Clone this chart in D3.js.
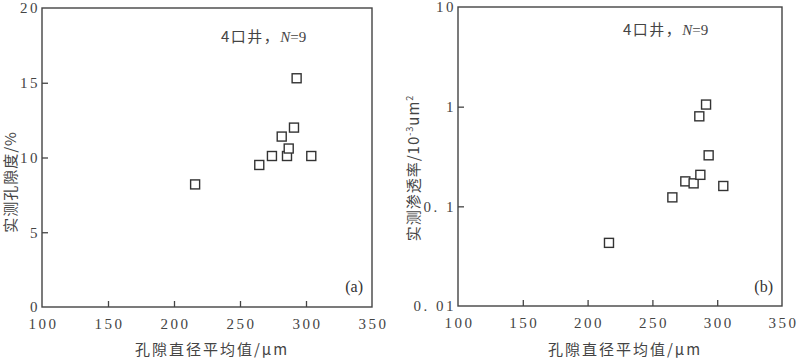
<!DOCTYPE html>
<html><head><meta charset="utf-8">
<script src="https://cdn.jsdelivr.net/npm/d3@7/dist/d3.min.js"></script>
<style>
body{margin:0;background:#fff;}
svg{display:block;}
.tick-label{font-family:"Liberation Serif","DejaVu Serif",serif;font-size:15px;fill:#444;letter-spacing:2.5px;}
.cjk{font-family:"Noto Sans CJK SC","Noto Sans",sans-serif;fill:#444;}
</style>
</head><body>
<svg id="c" width="800" height="359"></svg>
<script>
// Data
const diamA = [216, 264.6, 274.2, 285.6, 286.9, 281.6, 290.9, 292.9, 304];
const porosity = [8.2, 9.5, 10.1, 10.1, 10.6, 11.4, 12.0, 15.3, 10.1];
const diamB = [216.5, 265.4, 275.4, 281.8, 287, 293.4, 286.2, 291.4, 304.7];
const permeability = [0.043, 0.123, 0.178, 0.170, 0.207, 0.325, 0.80, 1.05, 0.160];
const xTicks = [100, 150, 200, 250, 300, 350];
const yTicksA = [0, 5, 10, 15, 20];
const yTicksB = [0.01, 0.1, 1, 10];
const yTickLabelsB = ["0. 01", "0. 1", "1", "10"];
const xTitle = "孔隙直径平均值/μm";
const annot = "4口井，";

const svg = d3.select("#c");
const ink = "#444";

function panel(opt){
  const g = svg.append("g");
  const x = d3.scaleLinear().domain([100,350]).range([opt.left, opt.right]);
  const y = opt.log ? d3.scaleLog().domain([0.01,10]).range([opt.bottom, opt.top])
                    : d3.scaleLinear().domain([0,20]).range([opt.bottom, opt.top]);
  g.append("rect").attr("x",opt.left).attr("y",opt.top)
    .attr("width",opt.right-opt.left).attr("height",opt.bottom-opt.top)
    .attr("fill","none").attr("stroke",ink).attr("stroke-width",1.4);
  const xAx = d3.axisBottom(x).tickValues(xTicks).tickSize(-6).tickFormat(d3.format("d"));
  const gx = g.append("g").attr("transform",`translate(0,${opt.bottom})`).call(xAx);
  gx.select(".domain").remove();
  gx.selectAll(".tick line").attr("stroke",ink).attr("stroke-width",1.3)
    .attr("display",d=> (d===100||d===350)?"none":null);
  gx.selectAll(".tick text").attr("class","tick-label").attr("y",11).attr("dy","0.71em")
    .attr("dx","1px").attr("fill",ink);
  const yAx = d3.axisLeft(y).tickValues(opt.yTicks).tickSize(-6)
    .tickFormat((d,i)=>opt.yLabels ? opt.yLabels[i] : d3.format("d")(d));
  const gy = g.append("g").attr("transform",`translate(${opt.left},0)`).call(yAx);
  gy.select(".domain").remove();
  gy.selectAll(".tick line").attr("stroke",ink).attr("stroke-width",1.3)
    .attr("display",(d,i)=> (i===0||i===opt.yTicks.length-1)?"none":null);
  gy.selectAll(".tick text").attr("class","tick-label").attr("x",-2).attr("fill",ink);
  const s = 9;
  g.selectAll("rect.pt").data(opt.xs.map((v,i)=>[v,opt.ys[i]])).join("rect")
    .attr("class","pt")
    .attr("x",d=>x(d[0])-s/2).attr("y",d=>y(d[1])-s/2)
    .attr("width",s).attr("height",s)
    .attr("fill","#fff").attr("stroke","#333").attr("stroke-width",1.4);
  const t = g.append("text").attr("x",opt.annX).attr("y",opt.annY)
    .attr("font-size",15).attr("fill",ink);
  t.append("tspan").attr("class","cjk").attr("letter-spacing","1.5px").text(annot);
  t.append("tspan").attr("font-family","Liberation Serif").attr("font-style","italic").text("N");
  t.append("tspan").attr("font-family","Liberation Serif").text("=9");
  g.append("text").attr("x",opt.right-9).attr("y",292).attr("text-anchor","end")
    .attr("font-family","Liberation Serif").attr("font-size",16).attr("fill","#333").text(opt.tag);
  g.append("text").attr("class","cjk").attr("x",(opt.left+opt.right)/2+5).attr("y",355)
    .attr("text-anchor","middle").attr("font-size",15).attr("letter-spacing","2px").text(xTitle);
  const yt = g.append("text").attr("class","cjk")
    .attr("transform",`translate(${opt.yTitleX},${opt.yTitleY}) rotate(-90)`)
    .attr("text-anchor","middle").attr("font-size",15).attr("letter-spacing","1px");
  opt.yTitle(yt);
}

panel({left:42,right:372,top:8,bottom:307,log:false,xs:diamA,ys:porosity,
  yTicks:yTicksA,annX:221,annY:42,tag:"(a)",yTitleX:16,yTitleY:182,
  yTitle:t=>t.text("实测孔隙度/%")});
panel({left:458,right:782,top:7,bottom:306,log:true,xs:diamB,ys:permeability,
  yTicks:yTicksB,yLabels:yTickLabelsB,annX:623,annY:35,tag:"(b)",yTitleX:419,yTitleY:168,
  yTitle:t=>{
    t.append("tspan").text("实测渗透率/10");
    t.append("tspan").attr("font-size",9).attr("dy",-6).text("-3");
    t.append("tspan").attr("dy",6).text("um");
    t.append("tspan").attr("font-size",9).attr("dy",-6).text("2");
  }});
</script>
</body></html>
